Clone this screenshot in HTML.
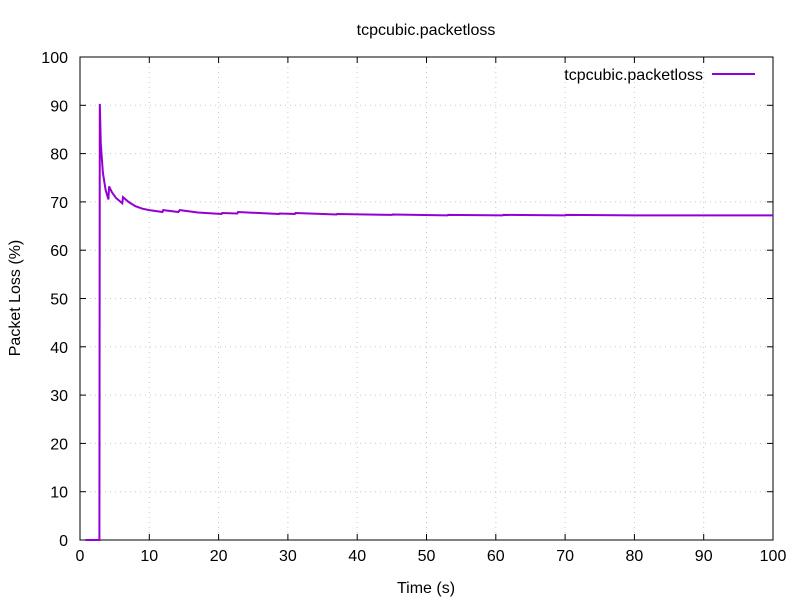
<!DOCTYPE html>
<html><head><meta charset="utf-8"><style>
body{margin:0;background:#fff}
svg{display:block;font-family:"Liberation Sans",sans-serif}
</style></head><body>
<svg id="chart" width="800" height="600" xmlns="http://www.w3.org/2000/svg">
<rect width="800" height="600" fill="#fff"/>
<text x="426" y="35" font-size="16" text-anchor="middle">tcpcubic.packetloss</text>
<g id="grid"></g>
<g id="axes"></g>
<text x="426" y="593" font-size="16" text-anchor="middle">Time (s)</text>
<text transform="translate(20,298) rotate(-90)" font-size="16" text-anchor="middle">Packet Loss (%)</text>
<g>
<text x="703" y="80" font-size="16" text-anchor="end">tcpcubic.packetloss</text>
<line x1="712" y1="74" x2="755" y2="74" stroke="#9400d3" stroke-width="2"/>
</g>
<path id="series" fill="none" stroke="#9400d3" stroke-width="2"/>
</svg>
<script>
const xTicks=[0,10,20,30,40,50,60,70,80,90,100];
const yTicks=[0,10,20,30,40,50,60,70,80,90,100];
const times=[0.8,2.8,2.85,3.0,3.3,3.7,4.1,4.2,4.6,5.2,6.1,6.2,7,8,9,10,11.9,12,14.2,14.4,17,20.4,20.5,22.7,22.8,28.7,28.8,31,31.1,37,37.1,45,45.1,53,53.1,61,61.1,70,70.1,80,90,100];
const loss=[0,0,90.3,82,76,72.5,70.5,73.2,72,70.8,69.7,71,70,69.1,68.6,68.3,67.9,68.3,67.9,68.3,67.8,67.5,67.7,67.6,67.9,67.5,67.6,67.5,67.7,67.4,67.5,67.3,67.4,67.2,67.3,67.2,67.3,67.2,67.3,67.2,67.2,67.2];
const L=80,R=773,T=57,B=540;
const X=v=>L+(v-0)/100*(R-L), Y=v=>B-(v/100)*(B-T);
const ns="http://www.w3.org/2000/svg";
const grid=document.getElementById('grid'), axes=document.getElementById('axes');
function mk(tag,attrs,parent){const e=document.createElementNS(ns,tag);for(const k in attrs)e.setAttribute(k,attrs[k]);parent.appendChild(e);return e;}
xTicks.forEach(t=>{
  const x=X(t);
  if(t>0&&t<100){const g=mk('line',{x1:x,x2:x,y1:T,y2:B,stroke:'#c8c8c8','stroke-dasharray':'1,4'},grid);
  
  }
  const k=mk('line',{x1:x,x2:x,y1:B,y2:B-6,stroke:'#000'},axes);
  
  
  const k2=mk('line',{x1:x,x2:x,y1:T,y2:T+6,stroke:'#000'},axes);
  
  
  const tx=mk('text',{x:x,y:B+21,'font-size':16,'text-anchor':'middle'},axes);tx.textContent=t;
  
  
});
yTicks.forEach(t=>{
  const y=Y(t);
  if(t>0&&t<100){const g=mk('line',{x1:L,x2:R,y1:y,y2:y,stroke:'#c8c8c8','stroke-dasharray':'1,4'},grid);
  
  }
  const k=mk('line',{x1:L,x2:L+6,y1:y,y2:y,stroke:'#000'},axes);
  
  
  const k2=mk('line',{x1:R,x2:R-6,y1:y,y2:y,stroke:'#000'},axes);
  
  
  const tx=mk('text',{x:L-12,y:y+6,'font-size':16,'text-anchor':'end'},axes);tx.textContent=t;
  
  
});
const fr=mk('rect',{x:L,y:T,width:R-L,height:B-T,fill:'none',stroke:'#000'},axes);


document.getElementById('series').setAttribute('d',times.map((t,i)=>(i?'L':'M')+X(t).toFixed(1)+','+Y(loss[i]).toFixed(1)).join(''));
</script>
</body></html>
